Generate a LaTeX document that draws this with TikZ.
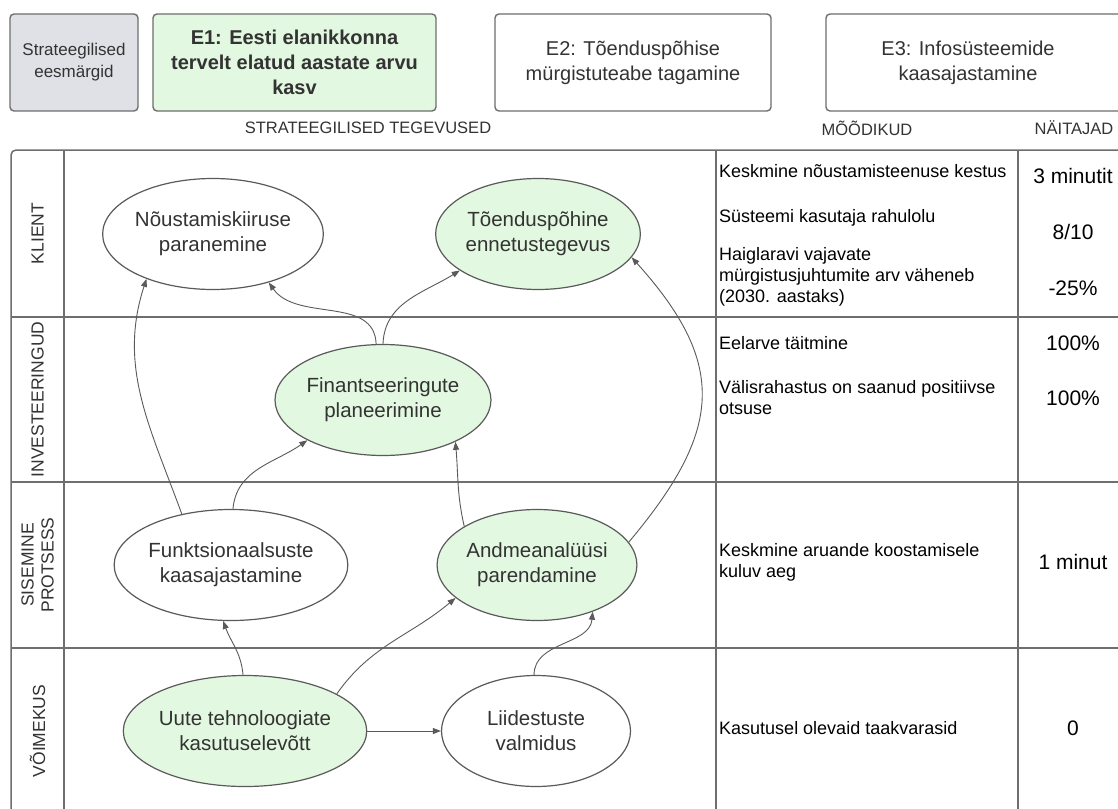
\documentclass[tikz,border=0pt]{standalone}
\usepackage{fontspec}
\setmainfont{Liberation Sans}
\usetikzlibrary{shapes.geometric,arrows.meta}
\definecolor{edgegray}{HTML}{5A5A5A}
\definecolor{gridgray}{HTML}{6E6E6E}
\definecolor{goalgray}{HTML}{DFE1E6}
\definecolor{leaf}{HTML}{E2F8E0}
\definecolor{ink}{HTML}{333333}
\newcommand{\fs}[2]{\fontsize{#1}{#2}\selectfont}

\begin{document}
\begin{tikzpicture}[x=1pt,y=1pt,
  goalbox/.style={draw=gridgray, line width=1.4pt, rounded corners=4pt, align=center,
    text=ink, minimum height=97pt, inner sep=0pt},
  act/.style={ellipse, draw=edgegray, line width=1.2pt, minimum width=189pt,
    minimum height=111pt, inner sep=0pt, align=center, text=ink, font=\fs{20.5}{25}},
  actg/.style={act, fill=leaf},
  link/.style={draw=edgegray, line width=0.9pt, -{Triangle[length=8pt,width=6pt]}},
  tline/.style={draw=gridgray, line width=1.5pt},
  head/.style={text=ink, font=\fs{16.5}{20}, inner sep=0pt},
  rowlab/.style={rotate=90, text=ink, font=\fs{17.5}{20}, align=center, inner sep=0pt},
  metric/.style={anchor=west, align=left, inner sep=0pt, font=\fs{18}{21}},
  value/.style={inner sep=0pt, font=\fs{21}{24}}
]
\useasboundingbox (0,0) rectangle (1118,-808);
\clip (0,0) rectangle (1118,-808);
\fill[white] (0,0) rectangle (1118,-808);

% strategic goals
\node[goalbox, fill=goalgray, minimum width=128pt, font=\fs{17}{22}] (goal0) at (74,-62.5)
  {Strateegilised\\eesmärgid};
\node[goalbox, fill=leaf, minimum width=283pt, font=\bfseries\fs{20}{25}] (goal1) at (294.5,-62.5)
  {E1: Eesti elanikkonna\\tervelt elatud aastate arvu\\kasv};
\node[goalbox, fill=white, minimum width=276pt, font=\fs{20}{25}] (goal2) at (633,-62.5)
  {E2: Tõenduspõhise\\mürgistuteabe tagamine};
\draw[draw=gridgray, line width=1.4pt, rounded corners=4pt]
  (1140,-14) -- (826,-14) -- (826,-111) -- (1140,-111);
\node[text=ink, align=center, font=\fs{20}{25}, inner sep=0pt] (goal3) at (968,-62.5)
  {E3: Infosüsteemide\\kaasajastamine};

% column headings
\node[head] (hact) at (368,-128) {STRATEEGILISED TEGEVUSED};
\node[head] (hmet) at (867,-128) {MÕÕDIKUD};
\node[head] (hval) at (1074,-128) {NÄITAJAD};

% table frame
\draw[tline, rounded corners=5pt] (11,-820) -- (11,-150) -- (1130,-150);
\draw[tline] (64,-150) -- (64,-820);
\draw[tline] (716,-150) -- (716,-820);
\draw[tline] (1018,-150) -- (1018,-820);
\draw[tline] (11,-317) -- (1130,-317);
\draw[tline] (11,-482) -- (1130,-482);
\draw[tline] (11,-648) -- (1130,-648);

% perspective labels
\node[rowlab] (pklient) at (37.5,-233.5) {KLIENT};
\node[rowlab] (pinvest) at (37.5,-399.5) {INVESTEERINGUD};
\node[rowlab] (pprots) at (37.5,-565) {SISEMINE\\PROTSESS};
\node[rowlab] (pvoime) at (37.5,-731) {VÕIMEKUS};

% strategic activities
\node[act]  (nou) at (213,-234) {Nõustamiskiiruse\\paranemine};
\node[actg] (toe) at (538,-234) {Tõenduspõhine\\ennetustegevus};
\node[actg] (fin) at (383,-400) {Finantseeringute\\planeerimine};
\node[act]  (fun) at (231,-565) {Funktsionaalsuste\\kaasajastamine};
\node[actg] (and) at (537,-565) {Andmeanalüüsi\\parendamine};
\node[actg] (uut) at (245,-731) {Uute tehnoloogiate\\kasutuselevõtt};
\node[act]  (lii) at (536,-731) {Liidestuste\\valmidus};

% cause and effect links
\draw[link] (fin.97) to[out=92,in=-55] (nou.-41);
\draw[link] (fin.90) to[out=88,in=-148] (toe.-155);
\draw[link] (fun.134) to[out=110,in=-108] (nou.-146);
\draw[link] (fun.88) to[out=85,in=-145] (fin.-152);
\draw[link] (and.152) to[out=103,in=-85] (fin.-30);
\draw[link] (and.14) to[out=50,in=-48,looseness=1.3] (toe.-14);
\draw[link] (uut.92) to[out=95,in=-70] (fun.-98);
\draw[link] (uut.22) to[out=55,in=-140] (and.-158);
\draw[link] (uut.east) -- (lii.west);
\draw[link] (lii.92) to[out=90,in=-95] (and.-40);

% measures
\node[metric] (m1) at (719,-171) {Keskmine nõustamisteenuse kestus};
\node[metric] (m2) at (719,-218) {Süsteemi kasutaja rahulolu};
\node[metric] (m3) at (719,-277) {Haiglaravi vajavate\\mürgistusjuhtumite arv väheneb\\(2030. aastaks)};
\node[metric] (m4) at (719,-343) {Eelarve täitmine};
\node[metric] (m5) at (719,-398) {Välisrahastus on saanud positiivse\\otsuse};
\node[metric] (m6) at (719,-562) {Keskmine aruande koostamisele\\kuluv aeg};
\node[metric] (m7) at (719,-728) {Kasutusel olevaid taakvarasid};

% target values
\node[value] (v1) at (1073,-176) {3 minutit};
\node[value] (v2) at (1073,-232) {8/10};
\node[value] (v3) at (1073,-288) {-25\%};
\node[value] (v4) at (1073,-343) {100\%};
\node[value] (v5) at (1073,-398) {100\%};
\node[value] (v6) at (1073,-562) {1 minut};
\node[value] (v7) at (1073,-728) {0};
\end{tikzpicture}
\end{document}
